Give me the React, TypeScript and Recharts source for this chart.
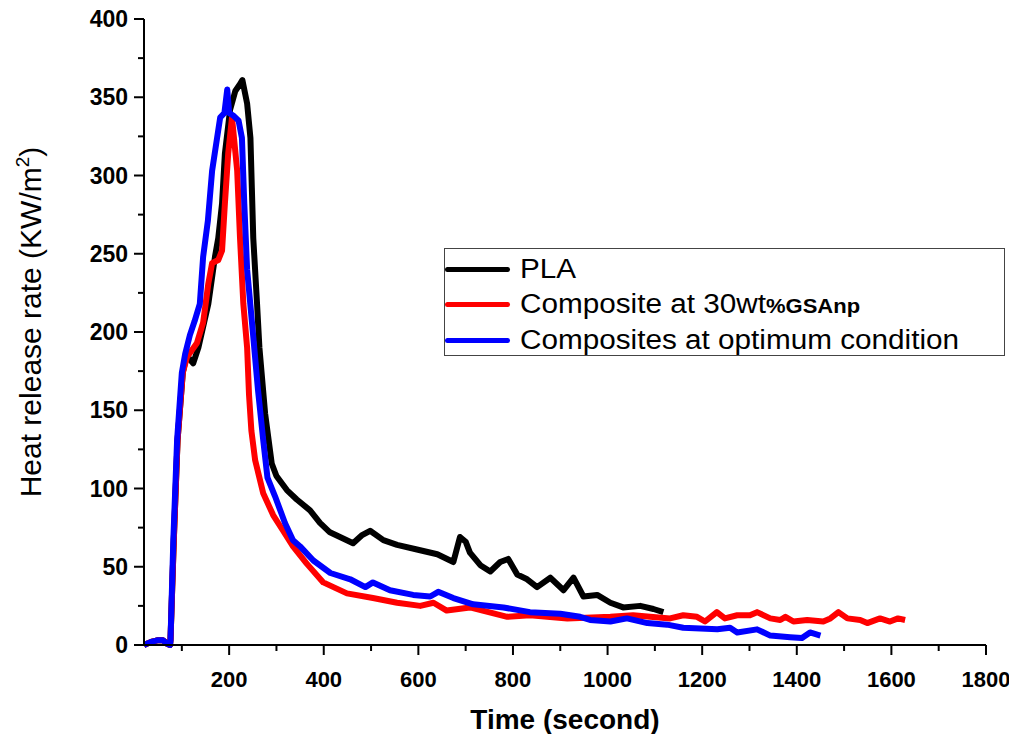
import { LineChart, Line, XAxis, YAxis } from "recharts";

// Heat release rate vs time, three samples.
const plaTime = [20, 35, 48, 60, 68, 75, 76, 83, 91, 102, 110, 124, 135, 156, 170, 177, 185, 191, 202, 213, 222, 228, 238, 245, 248, 251, 259, 264, 276, 290, 300, 322, 343, 371, 392, 413, 441, 462, 480, 498, 526, 555, 597, 640, 674, 688, 700, 709, 731, 752, 773, 790, 809, 830, 851, 879, 907, 928, 949, 978, 1006, 1033, 1069, 1097, 1118];
const plaHrr = [0, 2, 3, 3, 1, 0, 3, 67, 131, 174, 185, 180, 190, 218, 248, 260, 282, 314, 342, 354, 358, 361, 346, 324, 292, 260, 218, 190, 148, 116, 108, 99, 93, 86, 78, 72, 68, 65, 70, 73, 67, 64, 61, 58, 53, 69, 66, 59, 51, 47, 53, 55, 45, 42, 37, 43, 35, 43, 31, 32, 27, 24, 25, 23, 21];

const gsaTime = [20, 35, 48, 60, 68, 75, 76, 83, 91, 102, 111, 132, 145, 156, 164, 177, 185, 191, 198, 206, 217, 223, 230, 238, 242, 247, 255, 272, 293, 314, 335, 364, 399, 449, 504, 555, 604, 632, 660, 709, 788, 836, 915, 1006, 1054, 1090, 1132, 1160, 1189, 1206, 1231, 1248, 1274, 1301, 1316, 1344, 1365, 1376, 1393, 1422, 1456, 1471, 1488, 1507, 1534, 1549, 1576, 1597, 1614, 1629];
const gsaHrr = [0, 2, 3, 3, 1, 0, 3, 67, 131, 174, 184, 193, 206, 231, 244, 246, 252, 282, 314, 337, 303, 260, 218, 190, 160, 137, 118, 97, 83, 73, 63, 52, 40, 33, 30, 27, 25, 27, 22, 24, 18, 19, 17, 18, 19, 18, 17, 19, 18, 15, 21, 17, 19, 19, 21, 17, 16, 18, 15, 16, 15, 17, 21, 17, 16, 14, 17, 15, 17, 16];

const optTime = [20, 35, 48, 60, 68, 75, 76, 82, 90, 100, 107, 117, 127, 138, 145, 155, 164, 181, 190, 196, 200, 210, 220, 227, 232, 238, 251, 261, 272, 281, 297, 318, 335, 350, 378, 414, 456, 488, 504, 540, 589, 625, 642, 674, 716, 780, 836, 900, 942, 963, 1006, 1041, 1084, 1126, 1160, 1232, 1259, 1274, 1316, 1344, 1386, 1411, 1428, 1450];
const optHrr = [0, 2, 3, 3, 1, 0, 3, 67, 131, 174, 186, 198, 207, 218, 248, 271, 303, 337, 340, 355, 340, 338, 335, 324, 282, 240, 197, 163, 131, 107, 95, 78, 67, 63, 54, 46, 42, 37, 40, 35, 32, 31, 34, 30, 26, 24, 21, 20, 18, 16, 15, 17, 14, 13, 11, 10, 11, 8, 10, 6, 5, 4.5, 8, 6];

const xTicks = [100, 200, 300, 400, 500, 600, 700, 800, 900, 1000, 1100, 1200, 1300, 1400, 1500, 1600, 1700, 1800];
const yTicks = [0, 25, 50, 75, 100, 125, 150, 175, 200, 225, 250, 275, 300, 325, 350, 375, 400];

const seriesNames = ["PLA", "Composite at 30wt", "Composites at optimum condition"];
const seriesColors = ["#000000", "#ff0000", "#0000ff"];

const toPoints = (ts: number[], vs: number[]) => ts.map((t, i) => ({ t, v: vs[i] }));
const plaData = toPoints(plaTime, plaHrr);
const gsaData = toPoints(gsaTime, gsaHrr);
const optData = toPoints(optTime, optHrr);

const FONT = "'Liberation Sans', Arial, sans-serif";

// eslint-disable-next-line @typescript-eslint/no-explicit-any
const XTick = (props: any) => {
  const { x, y, payload } = props;
  const major = payload.value % 200 === 0;
  return (
    <g>
      <line x1={x} x2={x} y1={y} y2={y + (major ? 10 : 6)} stroke="#000" strokeWidth={2} />
      {major && (
        <text x={x} y={y + 42} textAnchor="middle" fontSize={22} fontWeight={700} fontFamily={FONT} fill="#000">
          {payload.value}
        </text>
      )}
    </g>
  );
};

// eslint-disable-next-line @typescript-eslint/no-explicit-any
const YTick = (props: any) => {
  const { x, y, payload } = props;
  const major = payload.value % 50 === 0;
  return (
    <g>
      <line x1={x} x2={x - (major ? 10 : 6)} y1={y} y2={y} stroke="#000" strokeWidth={2} />
      {major && (
        <text x={x - 16} y={y + 8} textAnchor="end" fontSize={23} fontWeight={700} fontFamily={FONT} fill="#000">
          {payload.value}
        </text>
      )}
    </g>
  );
};

const YLabel = () => (
  <text x={41} y={322} transform="rotate(-90 41 322)" textAnchor="middle" fontSize={30} fontFamily={FONT} fill="#000">
    Heat release rate (KW/m<tspan dy={-12} fontSize={19}>2</tspan>
    <tspan dy={12}>)</tspan>
  </text>
);

const XLabel = () => (
  <text x={565} y={729} textAnchor="middle" fontSize={28} fontWeight={700} fontFamily={FONT} fill="#000">
    Time (second)
  </text>
);

export default function App() {
  return (
    <div style={{ position: "relative", width: 1017, height: 742, margin: -8, background: "#fff" }}>
      <LineChart width={1017} height={742} margin={{ top: 19, right: 31, left: 0, bottom: 0 }}>
        <XAxis
          type="number"
          dataKey="t"
          domain={[20, 1800]}
          ticks={xTicks}
          allowDataOverflow
          height={97}
          tickSize={0}
          tickMargin={0}
          tickLine={false}
          tick={XTick}
          axisLine={{ stroke: "#000", strokeWidth: 2 }}
          label={<XLabel />}
        />
        <YAxis
          type="number"
          domain={[0, 400]}
          ticks={yTicks}
          width={144}
          tickSize={0}
          tickMargin={0}
          tickLine={false}
          tick={YTick}
          axisLine={{ stroke: "#000", strokeWidth: 2 }}
          label={<YLabel />}
        />
        <Line data={plaData} dataKey="v" type="linear" stroke={seriesColors[0]} strokeWidth={6} dot={false} isAnimationActive={false} strokeLinejoin="round" />
        <Line data={gsaData} dataKey="v" type="linear" stroke={seriesColors[1]} strokeWidth={6} dot={false} isAnimationActive={false} strokeLinejoin="round" />
        <Line data={optData} dataKey="v" type="linear" stroke={seriesColors[2]} strokeWidth={6} dot={false} isAnimationActive={false} strokeLinejoin="round" />
      </LineChart>

      <div
        style={{
          position: "absolute",
          left: 444,
          top: 248,
          width: 559,
          height: 106,
          border: "1px solid #444",
          fontFamily: FONT,
          background: "#fff",
        }}
      >
        {seriesNames.map((name, i) => (
          <div key={name} style={{ position: "absolute", left: 0, top: [4, 39, 75][i], height: 32, display: "flex", alignItems: "center" }}>
            <div style={{ width: 65, height: 5, borderRadius: 3, background: seriesColors[i] }} />
            <span
              style={{
                marginLeft: 10,
                fontSize: 27,
                color: "#000",
                whiteSpace: "nowrap",
                display: "inline-block",
                transform: "scaleX(1.1)",
                transformOrigin: "left center",
              }}
            >
              {name}
              {i === 1 && <b style={{ fontSize: 20 }}>%GSAnp</b>}
            </span>
          </div>
        ))}
      </div>
    </div>
  );
}
